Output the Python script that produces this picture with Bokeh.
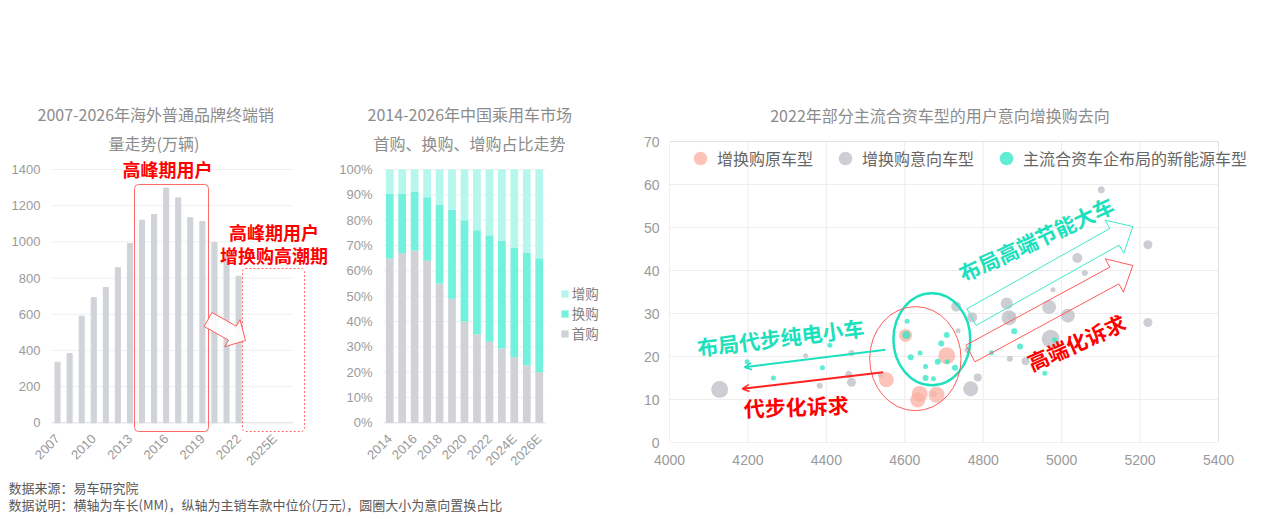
import math
from bokeh.plotting import figure
from bokeh.layouts import row, column
from bokeh.models import (FixedTicker, Label, Legend, LegendItem, Arrow, OpenHead,
                          PrintfTickFormatter, Title)
from bokeh.embed import file_html
from bokeh.resources import INLINE

FONT = "Noto Sans CJK SC"
NUM_FONT = "Liberation Sans"

# ---------------- data ----------------
sales_years = ["2007", "2008", "2009", "2010", "2011", "2012", "2013", "2014", "2015", "2016",
               "2017", "2018", "2019", "2020", "2021", "2022", "2023", "2024E", "2025E", "2026E"]
sales_values = [335, 383, 589, 692, 748, 858, 991, 1120, 1151, 1298, 1243, 1134, 1112, 996, 930, 810]
sales_ticks = [0, 200, 400, 600, 800, 1000, 1200, 1400]

mix_years = ["2014", "2015", "2016", "2017", "2018", "2019", "2020", "2021", "2022", "2023",
             "2024E", "2025E", "2026E"]
first_buy = [65, 67, 68, 64, 55, 49, 40, 35, 32, 29.3, 26, 22.6, 20]
replace_buy = [25.3, 23.3, 23.3, 25, 31, 35.2, 40, 41, 42, 42.5, 43, 44.6, 45]
add_buy = [9.7, 9.7, 8.7, 11, 14, 15.8, 20, 24, 26, 28.2, 31, 32.8, 35]
mix_names = ["首购", "换购", "增购"]
mix_ticks = [0, 10, 20, 30, 40, 50, 60, 70, 80, 90, 100]

# scatter: length (mm), median price (万元), share (%)
gray_len = [4128, 4347, 4383, 4464, 4457, 4464, 4538, 4674, 4731, 4736, 4772, 4760, 4768, 4786,
            4860, 4866, 4872, 4868, 4908, 4968, 4978, 5016, 4972, 5040, 5059, 5101, 5220, 5220]
gray_price = [12.3, 20.2, 13.2, 20.8, 15.8, 14.0, 15.7, 11.3, 31.6, 26.0, 29.1, 21.5, 12.5, 15.1,
              32.3, 29.0, 29.3, 19.5, 18.9, 31.5, 35.5, 29.5, 24.1, 42.9, 39.4, 58.8, 46.0, 27.9]
gray_share = [8.5, 2.5, 3, 3, 3.5, 4.5, 2.5, 3, 5, 2.5, 5, 3, 7.5, 4,
              6, 7.5, 4.5, 3, 4, 7, 2.5, 7, 9, 5, 3, 3.5, 4.5, 4.5]

pink_len = [4553, 4602, 4638, 4633, 4681, 4707]
pink_price = [14.6, 24.9, 11.3, 9.9, 11.1, 20.2]
pink_share = [7.5, 6.5, 8, 7.5, 8, 8.5]

teal_len = [4198, 4265, 4390, 4409, 4606, 4604, 4615, 4639, 4653, 4653, 4673, 4684, 4693, 4707,
            4708, 4728, 4821, 4879, 4894, 4982, 4957]
teal_price = [18.8, 15.0, 17.4, 22.6, 28.2, 25.0, 19.8, 20.8, 17.7, 15.0, 14.8, 18.8, 23.0, 25.0,
              18.8, 17.4, 20.9, 25.9, 22.3, 23.9, 16.1]
teal_share = [2.5, 2.5, 2.5, 2.5, 2.5, 4, 3, 2.5, 2.5, 3, 2.5, 3, 3, 3,
              2.5, 3, 2.5, 3, 3, 2.5, 2.5]

scatter_names = ["增换购原车型", "增换购意向车型", "主流合资车企布局的新能源车型"]
len_ticks = [4000, 4200, 4400, 4600, 4800, 5000, 5200, 5400]
price_ticks = [0, 10, 20, 30, 40, 50, 60, 70]

# ---------------- helpers ----------------
RED = "#ff0000"
TEAL_TXT = "#1de0bd"
TITLE_C = "#8c8c8c"
TICK_C = "#9a9a9a"
ROW_H = 477


def add_text(p, fx, fy, sx, sy, text, size, color, bold=False, angle=0, align="center"):
    p.add_layout(Label(x=fx(sx), y=fy(sy), text=text, text_font=FONT,
                       text_font_size=f"{size}px", text_color=color,
                       text_font_style="bold" if bold else "normal",
                       text_align=align, text_baseline="middle",
                       angle=math.radians(angle)))


def add_title(p, text, offset, standoff):
    p.add_layout(Title(text=text, align="left", offset=offset, standoff=standoff,
                       text_font=FONT, text_font_size="16px", text_font_style="normal",
                       text_color=TITLE_C), "above")


def block_arrow(fx, fy, tail, tip, w, hw, hl):
    tx, ty = tail
    px, py = tip
    dx, dy = px - tx, py - ty
    L = math.hypot(dx, dy)
    ux, uy = dx / L, dy / L
    nx, ny = -uy, ux
    bx, by = px - ux * hl, py - uy * hl
    pts = [(tx + nx * w, ty + ny * w), (bx + nx * w, by + ny * w), (bx + nx * hw, by + ny * hw),
           (px, py), (bx - nx * hw, by - ny * hw), (bx - nx * w, by - ny * w),
           (tx - nx * w, ty - ny * w)]
    return [fx(a) for a, _ in pts], [fy(b) for _, b in pts]


def style_axes(p, size):
    for ax in (p.xaxis, p.yaxis):
        ax.major_label_text_font = NUM_FONT
        ax.major_label_text_font_size = size
        ax.major_label_text_color = TICK_C
        ax.major_tick_line_color = None
        ax.minor_tick_line_color = None
        ax.major_tick_out = 0
        ax.major_tick_in = 0
        ax.minor_tick_out = 0
        ax.axis_line_color = None


# ---------------- panel 1 ----------------
# canvas 0..329 ; frame x 51..328, y 155..436 ; value 0 at 422.3, 1400 at 169
P1_CAT = 12.07
P1_UNIT = 253.3 / 1400
F1_L, F1_R, F1_T, F1_B = 51, 328, 155, 436


def p1x(sx):
    return -0.5 + (sx - F1_L) / P1_CAT


def p1y(sy):
    return (422.3 - sy) / P1_UNIT


p1 = figure(width=329, height=ROW_H, x_range=(p1x(F1_L), p1x(F1_R)),
            y_range=(p1y(F1_B), p1y(F1_T)),
            output_backend="svg", toolbar_location=None, frame_align=False,
            min_border_left=F1_L, min_border_right=329 - F1_R, min_border_top=F1_T,
            min_border_bottom=ROW_H - F1_B)
p1.outline_line_color = None
p1.grid.visible = False
style_axes(p1, "13px")
p1.yaxis.ticker = FixedTicker(ticks=sales_ticks)
p1.yaxis.major_label_standoff = 11
p1.xaxis.ticker = FixedTicker(ticks=[0, 3, 6, 9, 12, 15, 18])
p1.xaxis.major_label_overrides = {i: sales_years[i] for i in range(len(sales_years))}
p1.xaxis.major_label_orientation = math.pi / 4
p1.xaxis.major_label_standoff = 0

for t in sales_ticks:
    p1.segment(x0=-0.5, x1=len(sales_years) - 0.5, y0=t, y1=t,
               line_color="#dcdcdc" if t == 0 else "#f0f0f0", line_width=1)

p1.vbar(x=list(range(len(sales_values))), top=sales_values, width=0.42, color="#d0d3d7")

p1.quad(left=p1x(134), right=p1x(208), top=p1y(184), bottom=p1y(431),
        fill_alpha=0, line_color="#ff6b6b", line_width=1, border_radius=4)
p1.quad(left=p1x(242), right=p1x(304), top=p1y(268), bottom=p1y(431),
        fill_alpha=0, line_color="#ff6b6b", line_width=1, line_dash="2 2", border_radius=3)
axs, ays = block_arrow(p1x, p1y, (207.5, 319), (245, 340), 8, 15.5, 15)
p1.patch(axs, ays, fill_color="white", fill_alpha=0.9, line_color="#ff5c5c", line_width=1)

add_title(p1, "量走势(万辆)", 108 - F1_L, 2)
add_title(p1, "2007-2026年海外普通品牌终端销", 37 - F1_L, 4)
add_text(p1, p1x, p1y, 167, 168, "高峰期用户", 18, RED, bold=True)
add_text(p1, p1x, p1y, 273.5, 231, "高峰期用户", 18, RED, bold=True)
add_text(p1, p1x, p1y, 273.5, 254, "增换购高潮期", 18, RED, bold=True)

# ---------------- panel 2 ----------------
# canvas 329..622 ; frame x 383..621, y 155..436 ; 0% at 422.3, 100% at 169
P2_W = 293
P2_CAT = 12.46
P2_UNIT = 253.3 / 100
F2_L, F2_R, F2_T, F2_B = 383, 621, 155, 436
P2_X0 = 329


def p2x(sx):
    return -0.5 + (sx - F2_L) / P2_CAT


def p2y(sy):
    return (422.3 - sy) / P2_UNIT


p2 = figure(width=P2_W, height=ROW_H, x_range=(p2x(F2_L), p2x(F2_R)),
            y_range=(p2y(F2_B), p2y(F2_T)),
            output_backend="svg", toolbar_location=None, frame_align=False,
            min_border_left=F2_L - P2_X0, min_border_right=P2_X0 + P2_W - F2_R,
            min_border_top=F2_T, min_border_bottom=ROW_H - F2_B)
p2.outline_line_color = None
p2.grid.visible = False
style_axes(p2, "13px")
p2.yaxis.ticker = FixedTicker(ticks=mix_ticks)
p2.yaxis.formatter = PrintfTickFormatter(format="%d%%")
p2.yaxis.major_label_standoff = 11
p2.xaxis.ticker = FixedTicker(ticks=list(range(0, len(mix_years), 2)))
p2.xaxis.major_label_overrides = {i: mix_years[i] for i in range(len(mix_years))}
p2.xaxis.major_label_orientation = math.pi / 4
p2.xaxis.major_label_standoff = 0

for t in mix_ticks:
    p2.segment(x0=-0.5, x1=len(mix_years) - 0.5, y0=t, y1=t,
               line_color="#d9d9d9" if t == 0 else "#efefef", line_width=1)

src2 = dict(x=list(range(len(mix_years))), first=first_buy, rep=replace_buy, add=add_buy)
rs = p2.vbar_stack(["first", "rep", "add"], x="x", width=0.62, source=src2,
                   color=["#d0d2d6", "#72f1dd", "#b5f6ed"], line_color=None)
leg2 = Legend(items=[LegendItem(label=mix_names[2], renderers=[rs[2]]),
                     LegendItem(label=mix_names[1], renderers=[rs[1]]),
                     LegendItem(label=mix_names[0], renderers=[rs[0]])],
              location=(559.8 - F2_L, F2_B - 343), orientation="vertical", padding=0, margin=0,
              spacing=-1, glyph_width=9, glyph_height=9, label_height=14,
              label_standoff=3, label_text_font=FONT, label_text_font_size="13.5px",
              label_text_color="#808080", background_fill_alpha=0, border_line_alpha=0)
p2.add_layout(leg2, "center")

add_title(p2, "首购、换购、增购占比走势", 373 - F2_L, 2)
add_title(p2, "2014-2026年中国乘用车市场", 367 - F2_L, 4)

# ---------------- panel 3 ----------------
# canvas 622..1262 ; frame x 669..1255, y 100..442 ; 4000 at 669, 5400 at 1218 ; 70 at 141
P3_X0 = 622
P3_W = 640
P3_MM = 549 / 1400
P3_UNIT = 301 / 70
F3_L, F3_R, F3_T, F3_B = 669, 1255, 100, 442


def p3x(sx):
    return 4000 + (sx - F3_L) / P3_MM


def p3y(sy):
    return (442 - sy) / P3_UNIT


p3 = figure(width=P3_W, height=ROW_H, x_range=(p3x(F3_L), p3x(F3_R)),
            y_range=(p3y(F3_B), p3y(F3_T)),
            output_backend="svg", toolbar_location=None, frame_align=False,
            min_border_left=F3_L - P3_X0, min_border_right=P3_X0 + P3_W - F3_R,
            min_border_top=F3_T, min_border_bottom=ROW_H - F3_B)
p3.outline_line_color = None
p3.grid.visible = False
style_axes(p3, "14px")
p3.xaxis.ticker = FixedTicker(ticks=len_ticks)
p3.yaxis.ticker = FixedTicker(ticks=price_ticks)
p3.xaxis.major_label_standoff = 12
p3.yaxis.major_label_standoff = 10

for t in len_ticks:
    edge = t in (len_ticks[0], len_ticks[-1])
    p3.segment(x0=t, x1=t, y0=price_ticks[0], y1=price_ticks[-1],
               line_color="#e2e2e2" if edge else "#ededed", line_width=1)
for t in price_ticks:
    edge = t in (price_ticks[0], price_ticks[-1])
    p3.segment(x0=len_ticks[0], x1=len_ticks[-1], y0=t, y1=t,
               line_color="#e2e2e2" if edge else "#ededed", line_width=1)

r_gray = p3.scatter(x=gray_len, y=gray_price, size=[2 * s for s in gray_share],
                    fill_color="#c3c6cb", fill_alpha=0.85, line_color=None)
r_pink = p3.scatter(x=pink_len, y=pink_price, size=[2 * s for s in pink_share],
                    fill_color="#fbb0a0", fill_alpha=0.75, line_color=None)
r_teal = p3.scatter(x=teal_len, y=teal_price, size=[2 * s for s in teal_share],
                    fill_color="#2ce5c5", fill_alpha=0.75, line_color=None)

p3.ellipse(x=[4669], y=[24.0], width=[196], height=[21.4], fill_alpha=0,
           line_color="#1de0bd", line_width=2.5)
p3.ellipse(x=[4627], y=[19.5], width=[233], height=[24.2], fill_alpha=0,
           line_color="#ff5c5c", line_width=1)

tx, ty = block_arrow(p3x, p3y, (971, 316.6), (1132.3, 226), 9.5, 19, 21)
p3.patch(tx, ty, fill_alpha=0, line_color="#40e8cc", line_width=1)
rx, ry = block_arrow(p3x, p3y, (970, 353), (1132.3, 265), 9.5, 19, 21)
p3.patch(rx, ry, fill_alpha=0, line_color="#ff5c5c", line_width=1)

p3.add_layout(Arrow(end=OpenHead(size=7, line_color="#1de0bd", line_width=1.5),
                    x_start=p3x(885), y_start=p3y(349.3), x_end=p3x(744), y_end=p3y(366.7),
                    line_color="#1de0bd", line_width=2))
p3.add_layout(Arrow(end=OpenHead(size=7, line_color="#ff2020", line_width=1.5),
                    x_start=p3x(882.7), y_start=p3y(371.7), x_end=p3x(741.7), y_end=p3y(388.3),
                    line_color="#ff2020", line_width=2))

leg3 = Legend(items=[LegendItem(label=scatter_names[0], renderers=[r_pink]),
                     LegendItem(label=scatter_names[1], renderers=[r_gray]),
                     LegendItem(label=scatter_names[2], renderers=[r_teal])],
              location=(683 - F3_L, F3_B - 175), orientation="horizontal", padding=0, margin=0,
              spacing=15, glyph_width=34, glyph_height=34, label_height=20,
              label_standoff=0, label_text_font=FONT, label_text_font_size="16px",
              label_text_color="#666666", background_fill_alpha=0, border_line_alpha=0)
p3.add_layout(leg3, "center")

add_text(p3, p3x, p3y, 939.5, 114, "2022年部分主流合资车型的用户意向增换购去向", 16, TITLE_C)
add_text(p3, p3x, p3y, 780, 336.7, "布局代步纯电小车", 21, TEAL_TXT, bold=True, angle=7)
add_text(p3, p3x, p3y, 795.7, 405.7, "代步化诉求", 21, RED, bold=True, angle=2)
add_text(p3, p3x, p3y, 1035.7, 238.3, "布局高端节能大车", 21, TEAL_TXT, bold=True, angle=25)
add_text(p3, p3x, p3y, 1075.8, 341.7, "高端化诉求", 21, RED, bold=True, angle=24)

# ---------------- footer ----------------
FH = 41
pf = figure(width=1262, height=FH, x_range=(0, 1262), y_range=(0, FH), output_backend="svg",
            toolbar_location=None, min_border=0, x_axis_location=None, y_axis_location=None)
pf.grid.visible = False
pf.outline_line_color = None
for sy, txt in ((487, "数据来源：易车研究院"),
                (503.5, "数据说明：横轴为车长(MM)，纵轴为主销车款中位价(万元)，圆圈大小为意向置换占比")):
    pf.add_layout(Label(x=8, y=FH - (sy - ROW_H), text=txt, text_font=FONT,
                        text_font_size="13px", text_color="#595959",
                        text_align="left", text_baseline="middle"))

layout = column(row(p1, p2, p3, spacing=0), pf, spacing=0)
open("out.html", "w").write(file_html(layout, INLINE))
